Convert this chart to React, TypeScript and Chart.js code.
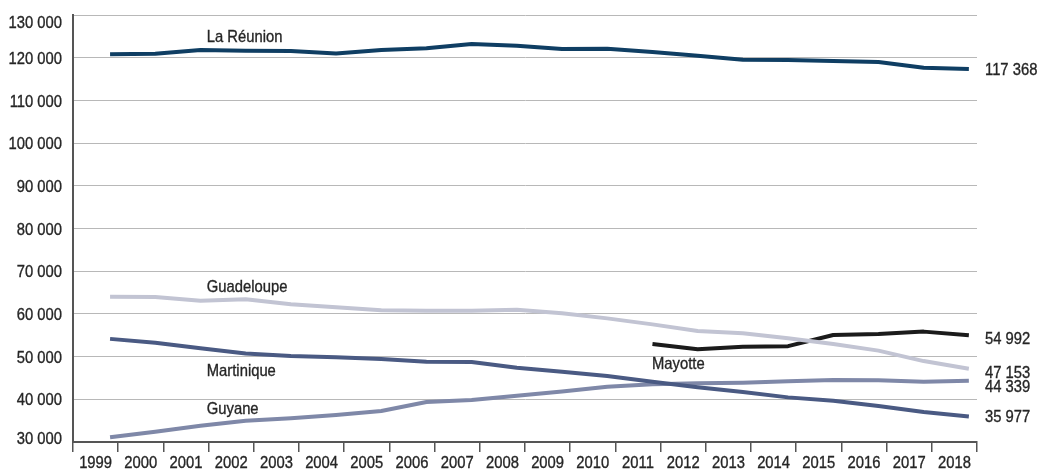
import React, { useEffect, useRef } from "react";
import { Chart, registerables } from "chart.js";

Chart.register(...registerables);

const years = [1999, 2000, 2001, 2002, 2003, 2004, 2005, 2006, 2007, 2008, 2009, 2010, 2011, 2012, 2013, 2014, 2015, 2016, 2017, 2018];

const reunion = [120800, 120900, 121800, 121600, 121550, 121000, 121800, 122200, 123200, 122800, 122050, 122100, 121350, 120450, 119500, 119450, 119250, 119000, 117650, 117368];
const guadeloupe = [64000, 63950, 63100, 63450, 62250, 61550, 60850, 60750, 60750, 60950, 60150, 58950, 57550, 56000, 55450, 54300, 52950, 51400, 48950, 47153];
const martinique = [54150, 53250, 51950, 50750, 50150, 49850, 49450, 48800, 48750, 47400, 46450, 45450, 44100, 42800, 41700, 40450, 39650, 38450, 37050, 35977];
const guyane = [31100, 32400, 33800, 35000, 35550, 36300, 37250, 39350, 39850, 40850, 41800, 42950, 43500, 43750, 43900, 44200, 44500, 44450, 44100, 44339];
const mayotte = [null, null, null, null, null, null, null, null, null, null, null, null, 52950, 51700, 52300, 52450, 55050, 55300, 55850, 54992];

const seriesNames = ["La Réunion", "Guadeloupe", "Martinique", "Guyane", "Mayotte"];
const seriesValues = [reunion, guadeloupe, martinique, guyane, mayotte];
const seriesColors = ["#0f3e63", "#c2c4d3", "#4a5a83", "#7f88a8", "#1b1b1b"];

// name label anchors in data space: [year position, value at text baseline]
const nameAnchorX = [2001.14, 2001.14, 2001.14, 2001.14, 2010.99];
const nameAnchorY = [123680, 65130, 45530, 36560, 47100];
// end value label vertical nudges in px
const endNudge = [6.5, 8.8, 5.4, 11.4, 8.3];

const yTicks = [30000, 40000, 50000, 60000, 70000, 80000, 90000, 100000, 110000, 120000, 130000];

const FONT = "17px 'Liberation Sans', Arial, sans-serif";
const SQUEEZE = 0.87;
const TEXT = "#262626";
const fmt = (v: number) => String(Math.round(v)).replace(/\B(?=(\d{3})+(?!\d))/g, " ");

function narrowText(ctx: CanvasRenderingContext2D, text: string, x: number, y: number, align: CanvasTextAlign) {
  ctx.save();
  ctx.translate(x, y);
  ctx.scale(SQUEEZE, 1);
  ctx.textAlign = align;
  ctx.fillText(text, 0, 0);
  ctx.strokeText(text, 0, 0);
  ctx.restore();
}

const labelPlugin = {
  id: "labels",
  afterDatasetsDraw(chart: any) {
    const { ctx, chartArea } = chart;
    const xs = chart.scales.xl;
    const xc = chart.scales.x;
    const ys = chart.scales.y;
    ctx.save();
    ctx.font = FONT;
    ctx.fillStyle = TEXT;
    ctx.strokeStyle = TEXT;
    ctx.lineWidth = 0.35;
    ctx.textBaseline = "alphabetic";
    ys.ticks.forEach((t: any) => {
      const p = ys.getPixelForValue(t.value);
      const c = Math.min(Math.max(p, chartArea.top + 7), chartArea.bottom - 4.5);
      narrowText(ctx, fmt(t.value), ys.right - 11, c + 6.1, "right");
    });
    xc.ticks.forEach((t: any, i: number) => {
      narrowText(ctx, String(xc.getLabelForValue(t.value)), xc.getPixelForTick(i), chartArea.bottom + 26, "center");
    });
    seriesNames.forEach((name, i) => {
      narrowText(ctx, name, xs.getPixelForValue(nameAnchorX[i]), ys.getPixelForValue(nameAnchorY[i]), "left");
    });
    seriesValues.forEach((vals, i) => {
      const last = vals[vals.length - 1] as number;
      narrowText(ctx, fmt(last), chartArea.right + 8, ys.getPixelForValue(last) + endNudge[i], "left");
    });
    ctx.restore();
  },
};

export default function App() {
  const ref = useRef<HTMLCanvasElement>(null);
  useEffect(() => {
    document.body.style.margin = "0";
    const c = ref.current!;
    const chart = new Chart(c, {
      type: "line",
      data: {
        labels: years.map(String),
        datasets: seriesNames.map((name, i) => ({
          label: name,
          xAxisID: "xl",
          yAxisID: "y",
          data: years.map((yr, j) => ({ x: yr, y: seriesValues[i][j] })),
          borderColor: seriesColors[i],
          backgroundColor: seriesColors[i],
          borderWidth: 4,
          pointRadius: 0,
          tension: 0,
          borderJoinStyle: "round",
          borderCapStyle: "butt",
          spanGaps: false,
        })) as any,
      },
      options: {
        animation: false,
        responsive: false,
        maintainAspectRatio: false,
        layout: { padding: { top: 15, right: 63, left: 0, bottom: 0 } },
        plugins: { legend: { display: false }, tooltip: { enabled: false }, title: { display: false } },
        scales: {
          x: {
            type: "category",
            position: "bottom",
            offset: true,
            grid: { offset: true, drawOnChartArea: false, drawTicks: true, tickLength: 10, color: "#555", lineWidth: 1.5 },
            border: { color: "#555", width: 2 },
            ticks: { display: false, maxRotation: 0, autoSkip: false },
            afterFit: (s: any) => { s.height = 27; },
          },
          xl: { type: "linear", display: false, min: 1998.18, max: 2018.18 },
          y: {
            type: "linear",
            position: "left",
            min: 30000,
            max: 130000,
            afterBuildTicks: (s: any) => { s.ticks = yTicks.map((v) => ({ value: v })); },
            ticks: { display: false },
            grid: { drawTicks: false, color: "#b8b8b8", lineWidth: 1 },
            border: { color: "#555", width: 2 },
            afterFit: (s: any) => { s.width = 73; },
          },
        } as any,
      },
      plugins: [labelPlugin],
    });
    return () => chart.destroy();
  }, []);
  return (
    <div style={{ position: "absolute", left: 0, top: 0, width: 1040, height: 469, background: "#fff" }}>
      <canvas ref={ref} width={1040} height={469} style={{ width: 1040, height: 469, display: "block" }} />
    </div>
  );
}
